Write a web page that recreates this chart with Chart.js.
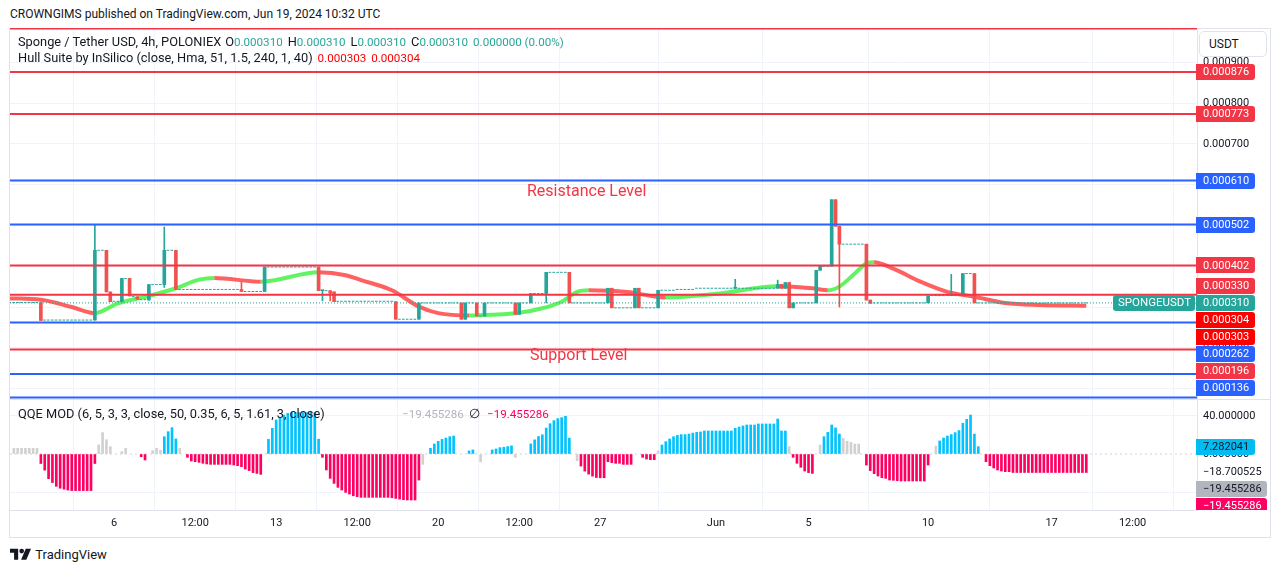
<!DOCTYPE html>
<html>
<head>
<meta charset="utf-8">
<title>SPONGEUSDT 4h</title>
<script src="https://cdn.jsdelivr.net/npm/chart.js@4.4.1/dist/chart.umd.min.js"></script>
<style>
  body { margin: 0; background: #ffffff; }
  #page { position: relative; width: 1281px; height: 573px; overflow: hidden;
          font-family: Roboto, "Liberation Sans", sans-serif; color: #131722; }
  .txt { position: absolute; white-space: nowrap; line-height: 16px; z-index: 5; }
  .leg { font-size: 12.8px; }
  .num { font-size: 11.6px; }
  canvas { position: absolute; left: 0; z-index: 2; }
  #frame { position: absolute; left: 9px; top: 28px; width: 1260px; height: 508px; border: 1px solid #e0e3eb; z-index: 1; }
  #sep { position: absolute; left: 10px; top: 399px; width: 1260px; height: 1px; background: #e0e3eb; z-index: 3; }
  #usdt { position: absolute; left: 1199px; top: 31px; width: 68px; height: 26px; border: 1px solid #e0e3eb;
          border-radius: 5px; background: #fff; font-size: 12px; line-height: 24px; padding-left: 9px; box-sizing: border-box; z-index: 6; }
  .gap { margin-left: 5px; }
  .up { color: #26a69a; }
  .hull { color: #ff0000; }
  .lvl { color: #f23645; font-size: 16px; line-height: 18px; }
</style>
</head>
<body>
<div id="page">
  <div class="txt" style="left:10px;top:6px;font-size:12px">CROWNGIMS published on TradingView.com, Jun 19, 2024 10:32 UTC</div>
  <div id="frame"></div>
  <canvas id="priceChart" width="1271" height="372" style="top:28px"></canvas>
  <canvas id="qqeChart" width="1271" height="137" style="top:400px"></canvas>
  <div id="sep"></div>
  <div id="usdt">USDT</div>
  <div class="txt leg" style="left:18px;top:34px"><span id="symbolTitle">Sponge / Tether USD, 4h, POLONIEX</span><span id="ohlc"></span></div>
  <div class="txt leg" style="left:18px;top:50px">Hull Suite by InSilico (close, Hma, 51, 1.5, 240, 1, 40)<span id="hullVals"></span></div>
  <div class="txt lvl" style="left:527px;top:182px">Resistance Level</div>
  <div class="txt lvl" style="left:530px;top:346px">Support Level</div>
  <div class="txt leg" style="left:18px;top:406px">QQE MOD (6, 5, 3, 3, close, 50, 0.35, 6, 5, 1.61, 3, close)</div>
  <div class="txt num" id="qqeGrey" style="left:402px;top:406px;color:#b2b5be"></div>
  <div class="txt leg" style="left:469px;top:406px">∅</div>
  <div class="txt num" id="qqePink" style="left:487px;top:406px;color:#ff0062"></div>
  <div class="txt" style="left:10px;top:547px;font-size:13px;">
    <svg width="21" height="12" viewBox="0 0 36 20" style="vertical-align:-1px"><path d="M14 20H7V8H0V1h14z" fill="#131722"/><circle cx="20" cy="5" r="4" fill="#131722"/><path d="M27 1h9l-8 19h-9z" fill="#131722"/></svg>
    <span style="margin-left:1px">TradingView</span>
  </div>
</div>
<script>
// time axis (bar index where each label sits)
const tickIndex = [29, 50, 71, 92, 113, 134, 155, 185, 209, 240, 272, 293];
const tickText = ['6', '12:00', '13', '12:00', '20', '12:00', '27', 'Jun', '5', '10', '17', '12:00'];

const symbolName = 'SPONGEUSDT';

// horizontal levels drawn on the chart
const redLevels = [0.000876, 0.000773, 0.000402, 0.000330, 0.000196];
const blueLevels = [0.000610, 0.000502, 0.000262, 0.000136];
const redLevelsNoLabel = [0.000983];
const blueLevelsNoLabel = [0.000078];

// candles that moved (bar index, open, high, low, close)
const candleIndex = [10, 24, 27, 28, 31, 33, 35, 38, 42, 45,
  62, 68, 82, 83, 85, 86, 102, 108, 119, 120,
  123, 125, 133, 134, 137, 141, 147, 157, 158, 164,
  165, 170, 190, 201, 202, 203, 204, 205, 211, 212,
  215, 216, 217, 224, 225, 240, 246, 249, 252];
const candleOpen = [0.000311, 0.000268, 0.000439, 0.000337, 0.000313, 0.000370, 0.000325, 0.000317, 0.000355, 0.000439,
  0.000343, 0.000338, 0.000398, 0.000340, 0.000340, 0.000337, 0.000313, 0.000270, 0.000310, 0.000270,
  0.000310, 0.000278, 0.000310, 0.000282, 0.000310, 0.000333, 0.000385, 0.000310, 0.000346, 0.000298,
  0.000346, 0.000298, 0.000346, 0.000346, 0.000355, 0.000346, 0.000360, 0.000298, 0.000310, 0.000390,
  0.000400, 0.000563, 0.000498, 0.000454, 0.000317, 0.000310, 0.000328, 0.000329, 0.000382];
const candleHigh = [0.000311, 0.000500, 0.000439, 0.000337, 0.000370, 0.000370, 0.000325, 0.000355, 0.000496, 0.000439,
  0.000361, 0.000398, 0.000398, 0.000340, 0.000340, 0.000337, 0.000313, 0.000310, 0.000310, 0.000310,
  0.000310, 0.000310, 0.000310, 0.000310, 0.000333, 0.000385, 0.000385, 0.000346, 0.000346, 0.000346,
  0.000346, 0.000341, 0.000368, 0.000366, 0.000355, 0.000360, 0.000360, 0.000310, 0.000390, 0.000400,
  0.000563, 0.000563, 0.000498, 0.000454, 0.000317, 0.000327, 0.000380, 0.000382, 0.000382];
const candleLow = [0.000267, 0.000268, 0.000337, 0.000313, 0.000313, 0.000327, 0.000319, 0.000317, 0.000348, 0.000343,
  0.000338, 0.000338, 0.000340, 0.000315, 0.000315, 0.000313, 0.000270, 0.000270, 0.000270, 0.000270,
  0.000278, 0.000278, 0.000282, 0.000282, 0.000310, 0.000310, 0.000310, 0.000310, 0.000298, 0.000298,
  0.000298, 0.000298, 0.000346, 0.000346, 0.000346, 0.000346, 0.000298, 0.000298, 0.000310, 0.000390,
  0.000400, 0.000498, 0.000300, 0.000317, 0.000309, 0.000310, 0.000328, 0.000329, 0.000310];
const candleClose = [0.000267, 0.000439, 0.000337, 0.000313, 0.000370, 0.000327, 0.000319, 0.000355, 0.000439, 0.000343,
  0.000338, 0.000398, 0.000340, 0.000340, 0.000334, 0.000313, 0.000270, 0.000310, 0.000270, 0.000310,
  0.000278, 0.000310, 0.000282, 0.000310, 0.000333, 0.000385, 0.000310, 0.000346, 0.000298, 0.000346,
  0.000298, 0.000341, 0.000346, 0.000355, 0.000346, 0.000360, 0.000298, 0.000310, 0.000390, 0.000400,
  0.000563, 0.000498, 0.000454, 0.000317, 0.000309, 0.000327, 0.000328, 0.000382, 0.000310];

// runs of flat bars (open = high = low = close)
const flatStart = [2, 11, 25, 29, 32, 34, 36, 39, 43, 46, 63, 69, 84, 87, 103, 109, 121, 124, 126, 135,
  138, 142, 148, 159, 166, 171, 175, 180, 206, 213, 218, 226, 241, 250, 253];
const flatEnd = [9, 23, 26, 30, 32, 34, 37, 41, 44, 61, 67, 81, 84, 101, 107, 118, 122, 124, 132, 136,
  140, 146, 156, 163, 169, 174, 179, 200, 210, 214, 223, 239, 248, 251, 281];
const flatPrice = [0.000311, 0.000268, 0.000439, 0.000314, 0.000370, 0.000326, 0.000318, 0.000355, 0.000439, 0.000343,
  0.000338, 0.000398, 0.000340, 0.000314, 0.000270, 0.000310, 0.000310, 0.000278, 0.000310, 0.000310,
  0.000333, 0.000385, 0.000310, 0.000298, 0.000298, 0.000341, 0.000343, 0.000346, 0.000310, 0.000400,
  0.000454, 0.000310, 0.000328, 0.000382, 0.000310];

// Hull Suite line, read at points along the curve
const hullIndex = [2, 10, 18, 24, 30, 38, 45, 51, 55, 67, 82, 89, 93, 101, 108, 113, 121, 127, 134, 140,
  145, 149, 152, 162, 172, 179, 186, 201, 210, 214, 217, 221, 224, 226, 231, 238, 245, 252, 260, 269, 281];
const hullValue = [0.000321, 0.000318, 0.000300, 0.000285, 0.000309, 0.000327, 0.000346, 0.000367, 0.000371, 0.000362,
  0.000385, 0.000378, 0.000366, 0.000341, 0.000301, 0.000285, 0.000279, 0.000281, 0.000286, 0.000297,
  0.000313, 0.000337, 0.000341, 0.000337, 0.000323, 0.000327, 0.000333, 0.000351, 0.000346, 0.000341,
  0.000350, 0.000382, 0.000407, 0.000410, 0.000394, 0.000362, 0.000337, 0.000325, 0.000310, 0.000305, 0.000303];
const hullLastValues = [0.000303, 0.000304];

// QQE MOD histogram: [first bar index, state (u up / d down / n neutral), values...]
const qqeRuns = [
  [3, 'n', 6, 6, 6, 6, 6, 6, 6],
  [10, 'd', -10, -17, -26, -30, -34, -36, -37, -38, -38.5, -38.5, -38.5, -38.5, -38.5, -38.5, -10],
  [25, 'n', 9.5, 22.5, 15, 7.7],
  [31, 'n', 2.5, 6],
  [36, 'd', -2.8, -6.3],
  [39, 'n', 3.5, 6, 4],
  [42, 'u', 18.2, 23.5, 27.7, 15.8],
  [46, 'n', 6],
  [48, 'd', -3.5, -7.4, -8.1, -8.8, -9.8, -10.5, -10.9, -10.9, -10.9, -10.9, -10.9, -10.9, -11.6, -12.3, -13.3, -15.8, -17.5, -19.6, -20.4, -21.4],
  [69, 'u', 15.4, 27, 35.8, 38.6, 41, 42.8, 43.5, 43.5, 43.5, 43.5, 43.5, 43.5, 43.5, 15.6],
  [83, 'd', -3.5, -16.8, -25.6, -30.9, -35.1, -37.9, -40.4, -42.1, -43.9, -44.9, -45.6, -45.6, -45.6, -45.6, -45.6, -45.6, -45.6, -45.6, -46, -46.7, -47.4, -48.1, -48.4, -48.4, -48.4, -27.4],
  [109, 'n', -10.9],
  [111, 'u', 6, 10.5, 13.3, 15.4, 16.8, 18.2, 18.9],
  [121, 'u', 3.2, 4.3],
  [124, 'n', -8.2],
  [127, 'u', 4.3, 5.3, 6.7, 7.1, 7.8, 8.5],
  [133, 'n', -3.5],
  [137, 'u', 10.6, 14.9, 18.4, 20.2, 27.3, 31.9, 35.1, 37.2, 38.3, 39.7, 16.7],
  [149, 'n', -7.1],
  [150, 'd', -12.7, -18, -21.2, -23.3, -24.7, -25, -25, -8.1, -9.1, -9.8, -9.8, -10.9, -10.9, -10.9],
  [166, 'd', -3.5, -5.3, -6, -6],
  [170, 'n', 3.2],
  [171, 'u', 9.5, 13, 15.8, 18.2, 19.6, 20.4, 20.4, 21, 22, 22.8, 23.2, 24.2, 24.2, 24.2, 24.2, 24.2, 24.2, 24.2, 24.2, 27, 28.4, 29.5, 30.5, 30.5, 30.5, 31.6, 31.6, 31.6, 31.6, 31.6, 36.8, 24.2, 24.2],
  [204, 'n', 7.7],
  [205, 'd', -3.5, -9.8, -14, -17.9, -19.6, -20.4],
  [212, 'n', 9.5],
  [213, 'u', 18.2, 22.8, 30.5, 27.4, 21],
  [218, 'n', 16.5, 13.3, 12.3, 10.5, 10.5],
  [224, 'd', -11.6, -17.5, -20.7, -23.2, -24.9, -25.6, -27.4, -27.7, -28, -28.4, -28.4, -28.4, -28.4, -28.4, -28.4, -28.4, -11.6],
  [242, 'n', 8.4],
  [243, 'u', 13.7, 16.8, 18.9, 20.4, 22.5, 24.6, 32.3, 36.5, 41, 21, 7.7],
  [255, 'd', -8.1, -12.3, -14.7, -16.8, -17.9, -18.6, -18.6, -19.455286, -19.455286, -19.455286, -19.455286, -19.455286,
    -19.455286, -19.455286, -19.455286, -19.455286, -19.455286, -19.455286, -19.455286, -19.455286, -19.455286,
    -19.455286, -19.455286, -19.455286, -19.455286, -19.455286, -19.455286]
];
// values shown on the QQE price scale
const qqeScaleValues = [7.282041, -18.700525, -19.455286, -19.455286];
const qqeTicks = [40, 0, -40];

// ---- styling ----
const TEAL = '#26a69a';
const CANDLE_RED = '#ef5350';
const LEVEL_RED = '#f23645';
const LEVEL_BLUE = '#2962ff';
const HULL_UP = 'rgba(0, 235, 0, 0.62)';
const HULL_DOWN = 'rgba(255, 0, 0, 0.62)';
const GRID = '#f0f3fa';
const FONT = 'Roboto, "Liberation Sans", sans-serif';
const X_MIN = 2, X_MAX = 309.7;
const AXIS_W = 74;

Chart.defaults.font.family = FONT;
Chart.defaults.font.size = 11;
Chart.defaults.color = '#131722';

const lastClose = flatPrice[flatPrice.length - 1];
const lastQqe = qqeRuns[qqeRuns.length - 1][qqeRuns[qqeRuns.length - 1].length - 1];

function fmt(v, d) {
  const s = Math.abs(v).toFixed(d);
  return v < 0 ? '\u2212' + s : s;
}

// legend texts
function ohlcItem(letter, v, first) {
  return '<span' + (first ? ' style="margin-left:4px"' : ' class="gap"') + '>' + letter +
    '<span class="up num">' + fmt(v, 6) + '</span></span>';
}
document.getElementById('ohlc').innerHTML =
  ohlcItem('O', lastClose, true) + ohlcItem('H', lastClose) + ohlcItem('L', lastClose) + ohlcItem('C', lastClose) +
  '<span class="gap up num">' + fmt(0, 6) + ' (0.00%)</span>';
document.getElementById('hullVals').innerHTML = hullLastValues.map(function(v) {
  return '<span class="gap hull num">' + fmt(v, 6) + '</span>';
}).join('');
document.getElementById('qqeGrey').textContent = fmt(lastQqe, 6);
document.getElementById('qqePink').textContent = fmt(lastQqe, 6);

function candleColor(i) {
  return candleClose[i] >= candleOpen[i] ? TEAL : CANDLE_RED;
}

function levelDataset(price, color) {
  return {
    type: 'line',
    data: [{x: X_MIN, y: price}, {x: X_MAX, y: price}],
    borderColor: color,
    borderWidth: 2,
    pointRadius: 0,
    clip: false,
    order: 1
  };
}

function drawLabelBox(ctx, x, y, h, bg, fg, text) {
  ctx.font = '11px ' + FONT;
  const w = Math.max(58, Math.ceil(ctx.measureText(text).width) + 12);
  if (bg) {
    ctx.fillStyle = bg;
    ctx.beginPath();
    ctx.roundRect(x, Math.round(y - h / 2), w, h, [0, 3, 3, 0]);
    ctx.fill();
  }
  ctx.fillStyle = fg;
  ctx.textBaseline = 'middle';
  ctx.textAlign = 'left';
  ctx.fillText(text, x + 7, y + 0.5);
}

// right-hand price labels, spread apart around the last price like TradingView does
const priceLabelsPlugin = {
  id: 'price_labels',
  afterDraw: function(chart) {
    const scale = chart.scales.y;
    const area = chart.chartArea;
    const ctx = chart.ctx;
    const H = 17;
    const anchor = {v: lastClose, bg: TEAL};
    let items = [];
    redLevels.forEach(function(v) { items.push({v: v, bg: LEVEL_RED}); });
    blueLevels.forEach(function(v) { items.push({v: v, bg: LEVEL_BLUE}); });
    hullLastValues.forEach(function(v) { items.push({v: v, bg: '#ff0000'}); });
    anchor.y = scale.getPixelForValue(anchor.v);

    let prev = anchor.y;
    items.filter(function(it) { return it.v > anchor.v; })
      .sort(function(a, b) { return a.v - b.v; })
      .forEach(function(it) {
        it.y = Math.min(scale.getPixelForValue(it.v), prev - H);
        prev = it.y;
      });
    prev = anchor.y;
    items.filter(function(it) { return it.v < anchor.v; })
      .sort(function(a, b) { return b.v - a.v; })
      .forEach(function(it) {
        it.y = Math.max(scale.getPixelForValue(it.v), prev + H);
        prev = it.y;
      });
    items.push(anchor);

    ctx.save();
    ctx.beginPath();
    ctx.rect(0, area.top, chart.width, area.bottom - area.top);
    ctx.clip();
    items.forEach(function(it) {
      drawLabelBox(ctx, area.right - 1, it.y, 16, it.bg, '#ffffff', fmt(it.v, 6));
    });
    // symbol name tag next to the last price
    ctx.fillStyle = TEAL;
    ctx.beginPath();
    ctx.roundRect(area.right - 84, Math.round(anchor.y - 8), 82, 16, 3);
    ctx.fill();
    ctx.fillStyle = '#ffffff';
    ctx.font = '11.5px ' + FONT;
    ctx.textBaseline = 'middle';
    ctx.fillText(symbolName, area.right - 79, anchor.y + 0.5);
    ctx.restore();
  }
};

const qqeLabelsPlugin = {
  id: 'qqe_labels',
  afterDraw: function(chart) {
    const scale = chart.scales.y;
    const area = chart.chartArea;
    const ctx = chart.ctx;
    const H = 17;
    const styles = [
      {bg: '#00bcf2', fg: '#131722'},
      {bg: null, fg: '#131722'},
      {bg: '#b2b5be', fg: '#131722'},
      {bg: '#ff0062', fg: '#ffffff'}
    ];
    let prev = -Infinity;
    ctx.save();
    ctx.beginPath();
    ctx.rect(0, area.top, chart.width, area.bottom - area.top);
    ctx.clip();
    qqeScaleValues.forEach(function(v, i) {
      const y = Math.max(scale.getPixelForValue(v), prev + H);
      prev = y;
      const st = styles[i];
      if (!st.bg) {
        ctx.fillStyle = '#ffffff';
        ctx.fillRect(area.right + 1, y - 8, 68, 16);
      }
      drawLabelBox(ctx, area.right - 1, y, 16, st.bg, st.fg, fmt(v, 6));
    });
    ctx.restore();
  }
};

function fixYAxis(scale) {
  scale.width = AXIS_W;
  scale.paddingTop = 0;
  scale.paddingBottom = 0;
}

// ---- price pane ----
const datasets = [];
redLevels.concat(redLevelsNoLabel).forEach(function(p) { datasets.push(levelDataset(p, LEVEL_RED)); });
blueLevels.concat(blueLevelsNoLabel).forEach(function(p) { datasets.push(levelDataset(p, LEVEL_BLUE)); });

// last price line
datasets.push({
  type: 'line',
  data: [{x: X_MIN, y: lastClose}, {x: X_MAX, y: lastClose}],
  borderColor: TEAL,
  borderWidth: 1,
  borderDash: [1, 2],
  pointRadius: 0,
  order: 2
});

// flat bars as short dashes
const flatPoints = [];
flatStart.forEach(function(s, i) {
  flatPoints.push({x: s - 0.39, y: flatPrice[i]});
  flatPoints.push({x: flatEnd[i] + 0.39, y: flatPrice[i]});
  flatPoints.push({x: flatEnd[i] + 0.45, y: null});
});
datasets.push({
  type: 'line',
  data: flatPoints,
  borderColor: TEAL,
  borderWidth: 1,
  borderDash: [2.6, 1.26],
  pointRadius: 0,
  spanGaps: false,
  order: 3
});

// candle wicks and bodies
datasets.push({
  type: 'bar',
  data: candleIndex.map(function(x, i) { return {x: x, y: [candleLow[i], candleHigh[i]]}; }),
  backgroundColor: function(ctx) { return candleColor(ctx.dataIndex); },
  barThickness: 1,
  grouped: false,
  order: 4
});
datasets.push({
  type: 'bar',
  data: candleIndex.map(function(x, i) { return {x: x, y: [candleOpen[i], candleClose[i]]}; }),
  backgroundColor: function(ctx) { return candleColor(ctx.dataIndex); },
  barThickness: 3,
  minBarLength: 1,
  grouped: false,
  order: 4
});

// Hull Suite line, green when rising, red when falling
datasets.push({
  type: 'line',
  data: hullIndex.map(function(x, i) { return {x: x, y: hullValue[i]}; }),
  borderWidth: 4,
  pointRadius: 0,
  cubicInterpolationMode: 'monotone',
  segment: {
    borderColor: function(ctx) { return ctx.p1.parsed.y >= ctx.p0.parsed.y ? HULL_UP : HULL_DOWN; }
  },
  borderColor: HULL_DOWN,
  order: 6
});

const priceChart = new Chart(document.getElementById('priceChart'), {
  type: 'line',
  data: {datasets: datasets},
  options: {
    responsive: false,
    animation: false,
    events: [],
    layout: {padding: {left: 10, right: 0, top: 0, bottom: 0}},
    scales: {
      x: {
        type: 'linear',
        min: X_MIN,
        max: X_MAX,
        offset: false,
        afterBuildTicks: function(s) { s.ticks = tickIndex.map(function(v) { return {value: v}; }); },
        afterFit: function(s) { s.height = 0; s.paddingLeft = 0; s.paddingRight = 0; },
        ticks: {display: false},
        grid: {color: GRID, drawTicks: false},
        border: {display: false}
      },
      y: {
        position: 'right',
        min: 0.000072,
        max: 0.000984,
        afterFit: fixYAxis,
        ticks: {
          stepSize: 0.0001,
          includeBounds: false,
          padding: 6,
          callback: function(v) { return fmt(v, 6); }
        },
        grid: {color: GRID, drawTicks: false},
        border: {color: '#e0e3eb'}
      }
    },
    plugins: {legend: {display: false}, tooltip: {enabled: false}}
  },
  plugins: [priceLabelsPlugin]
});

// ---- QQE pane ----
const qqeColors = {u: '#00c3ff', d: '#ff0062', n: '#d1d1d1'};
const qqeBars = [];
qqeRuns.forEach(function(run) {
  run.slice(2).forEach(function(v, k) { qqeBars.push({x: run[0] + k, y: v, s: run[1]}); });
});

const qqeChart = new Chart(document.getElementById('qqeChart'), {
  type: 'line',
  data: {
    datasets: [{
      type: 'bar',
      data: qqeBars,
      backgroundColor: function(ctx) { return qqeColors[ctx.raw.s]; },
      barThickness: 2,
      grouped: false,
      order: 1
    }, {
      type: 'line',
      data: [{x: X_MIN, y: 0}, {x: X_MAX, y: 0}],
      borderColor: 'rgba(120, 123, 134, 0.35)',
      borderWidth: 1,
      borderDash: [2, 3],
      pointRadius: 0,
      order: 2
    }]
  },
  options: {
    responsive: false,
    animation: false,
    events: [],
    layout: {padding: {left: 10, right: 0, top: 0, bottom: 0}},
    scales: {
      x: {
        type: 'linear',
        min: X_MIN,
        max: X_MAX,
        offset: false,
        afterBuildTicks: function(s) { s.ticks = tickIndex.map(function(v) { return {value: v}; }); },
        afterFit: function(s) { s.height = 27; s.paddingLeft = 0; s.paddingRight = 0; },
        ticks: {
          autoSkip: false,
          maxRotation: 0,
          padding: 7,
          callback: function(v, i) { return tickText[i]; }
        },
        grid: {color: GRID, drawTicks: false},
        border: {color: '#e0e3eb'}
      },
      y: {
        position: 'right',
        min: -58.9,
        max: 56.8,
        afterFit: fixYAxis,
        afterBuildTicks: function(s) { s.ticks = qqeTicks.map(function(v) { return {value: v}; }); },
        ticks: {
          padding: 6,
          callback: function(v) { return fmt(v, 6); }
        },
        grid: {
          color: function(ctx) { return ctx.tick && ctx.tick.value === 0 ? 'rgba(0,0,0,0)' : GRID; },
          drawTicks: false
        },
        border: {color: '#e0e3eb'}
      }
    },
    plugins: {legend: {display: false}, tooltip: {enabled: false}}
  },
  plugins: [qqeLabelsPlugin]
});
</script>
</body>
</html>
